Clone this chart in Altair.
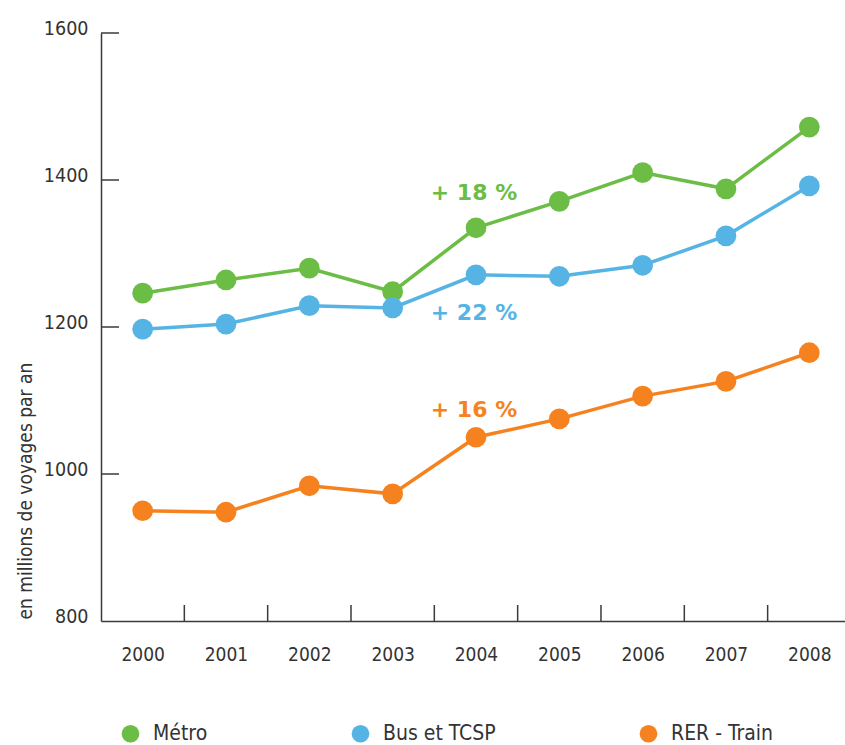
import altair as alt
import pandas as pd

annees = [2000, 2001, 2002, 2003, 2004, 2005, 2006, 2007, 2008]
metro = [1246, 1264, 1280, 1248, 1335, 1371, 1410, 1388, 1472]
bus = [1197, 1204, 1229, 1226, 1271, 1269, 1284, 1324, 1392]
rer = [950, 948, 984, 973, 1050, 1075, 1106, 1126, 1165]
series = ["Métro", "Bus et TCSP", "RER - Train"]
couleurs = ["#6cbd45", "#56b4e5", "#f5821f"]

annot_labels = ["+ 18 %", "+ 22 %", "+ 16 %"]
annot_values = [1382, 1219, 1087]
annot_annee = 2004

x_ticks = [2000.5, 2001.5, 2002.5, 2003.5, 2004.5, 2005.5, 2006.5, 2007.5]
y_ticks = [1000, 1200, 1400, 1600]
y_labels = [800, 1000, 1200, 1400, 1600]

rows = []
for s, vals in zip(series, [metro, bus, rer]):
    for a, v in zip(annees, vals):
        rows.append({"annee": a, "valeur": v, "serie": s})
df = pd.DataFrame(rows)
df_annot = pd.DataFrame({"annee": [annot_annee] * 3, "valeur": annot_values,
                         "serie": series, "label": annot_labels})
df_xt = pd.DataFrame({"annee": x_ticks})
df_yt = pd.DataFrame({"valeur": y_ticks})

W, H = 744, 588
FONT = "DejaVu Sans Condensed, sans-serif"
AX = "#3a3a3a"
TXT = "#333333"

xscale = alt.Scale(domain=[1999.5, 1999.5 + W / 83.33], nice=False, zero=False)
yscale = alt.Scale(domain=[800, 1600], nice=False, zero=False)
cscale = alt.Scale(domain=series, range=couleurs)

x_axis = alt.Axis(values=annees, format="d", tickSize=0, grid=False, title=None,
                  domainColor=AX, domainWidth=1.5, labelFont=FONT, labelFontSize=19,
                  labelColor=TXT, labelPadding=24)
y_axis = alt.Axis(values=y_labels, format="d", tickSize=0, grid=False,
                  title="en millions de voyages par an",
                  titleFont=FONT, titleFontSize=19, titleFontWeight="normal",
                  titleColor=TXT, titleAngle=270, titleAlign="left",
                  titleBaseline="middle", titleX=-76, titleY=586,
                  domainColor=AX, domainWidth=1.5, labelFont=FONT, labelFontSize=19.5,
                  labelColor=TXT, labelPadding=13, labelOffset=-5)
legend = alt.Legend(
    title=None, orient="none", direction="horizontal", legendX=19, legendY=690,
    symbolSize=314, symbolType="circle", symbolStrokeWidth=0,
    labelFont=FONT, labelFontSize=21, labelColor=TXT,
    labelOffset=12, columnPadding=142)

X = alt.X("annee:Q", scale=xscale, axis=x_axis)
Y = alt.Y("valeur:Q", scale=yscale, axis=y_axis)

layers = []
for s, c in zip(series, couleurs):
    layers.append(
        alt.Chart(df).transform_filter(alt.datum.serie == s)
        .mark_line(strokeWidth=3.5, color=c).encode(x=X, y=Y)
    )
layers.append(
    alt.Chart(df).mark_circle(size=430, opacity=1).encode(
        x=X, y=Y,
        color=alt.Color("serie:N", scale=cscale, legend=legend),
    )
)
for s, c in zip(series, couleurs):
    layers.append(
        alt.Chart(df_annot).transform_filter(alt.datum.serie == s)
        .mark_text(font="DejaVu Sans, sans-serif", fontSize=22, fontWeight="bold",
                   align="center", baseline="middle", dx=-2, color=c)
        .encode(x=X, y=Y, text="label:N")
    )
layers.append(
    alt.Chart(df_xt).mark_rule(color=AX, strokeWidth=1.5).encode(
        x=X, y=alt.value(H), y2=alt.value(H - 16))
)
layers.append(
    alt.Chart(df_yt).mark_rule(color=AX, strokeWidth=1.5).encode(
        y=Y, x=alt.value(0), x2=alt.value(18))
)

chart = alt.layer(*layers).properties(
    width=W, height=H, autosize=alt.AutoSizeParams(type="none"),
    padding={"left": 101, "top": 33, "right": 0, "bottom": 124},
    background="white",
).configure_view(stroke=None)

chart.save("out.html", embed_options={"renderer": "svg", "actions": False})
